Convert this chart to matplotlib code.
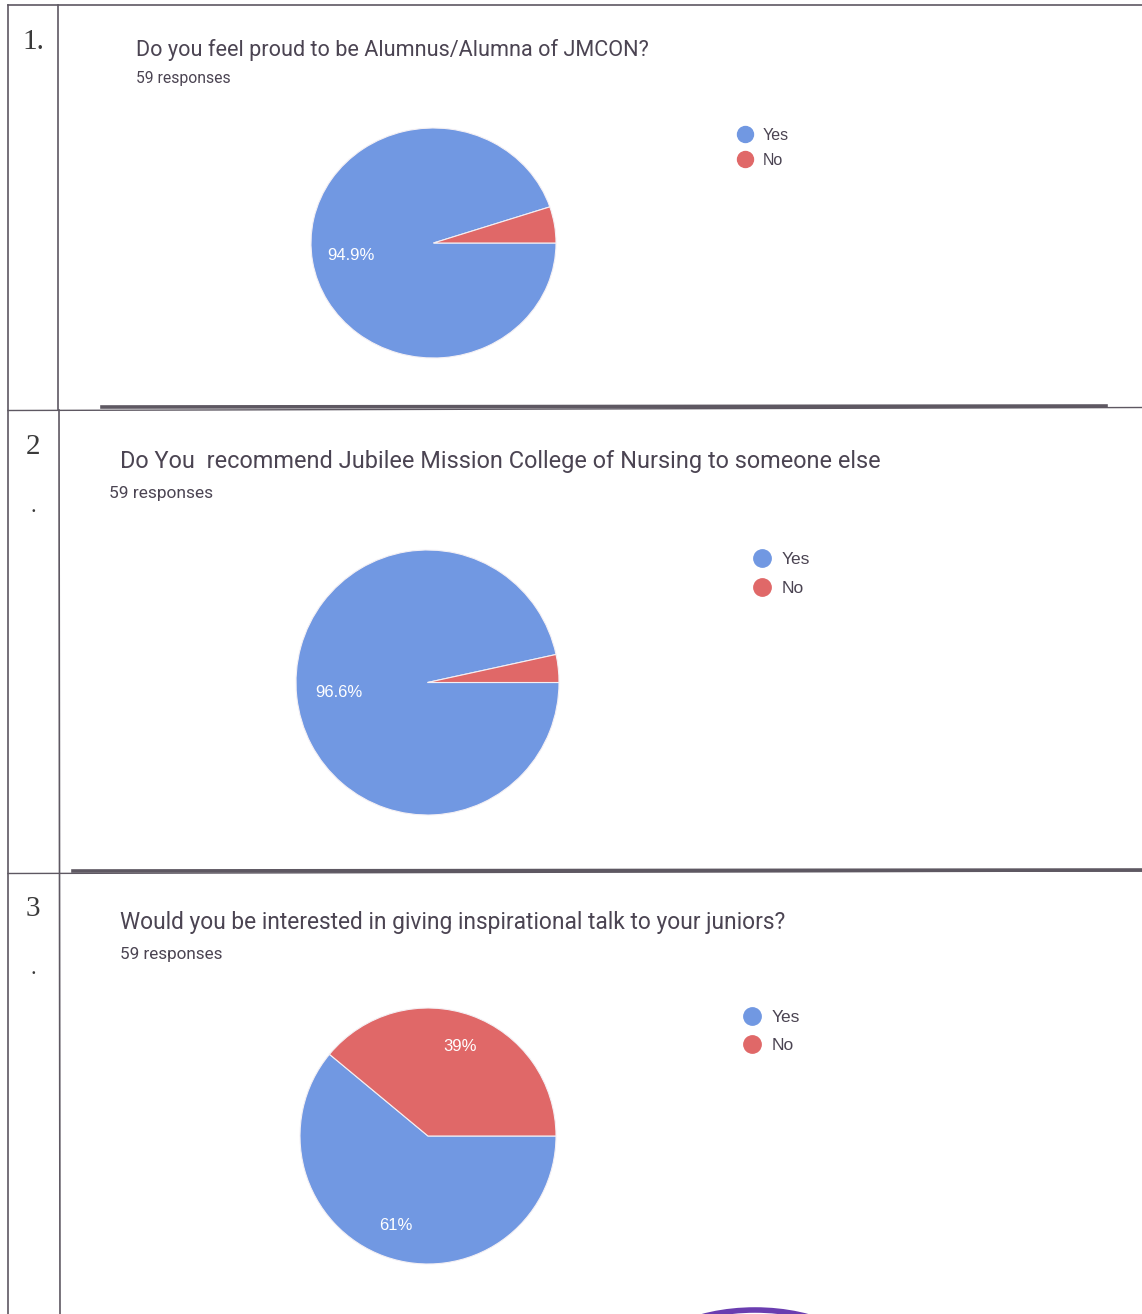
import matplotlib
matplotlib.use('Agg')
import matplotlib.pyplot as plt
from matplotlib.lines import Line2D
from matplotlib.patches import Ellipse

# ######################## Data ########################
questions = [
    'Do you feel proud to be Alumnus/Alumna of JMCON?',
    'Do You  recommend Jubilee Mission College of Nursing to someone else',
    'Would you be interested in giving inspirational talk to your juniors?',
]
responses = [59, 59, 59]
answers = ['Yes', 'No']
yes_counts = [56, 57, 36]
no_counts = [3, 2, 23]
row_numbers = ['1.', '2', '3']

# ######################## Layout (pixels) ########################
W, H = 1142, 1314
blue = '#7198e2'
red = '#e06868'
ink = '#4b4452'
line_col = '#5e5862'

# pie bounding boxes: x0, x1, y0, y1
pie_boxes = [(311, 556, 128, 358), (296, 559, 550, 815), (300, 556, 1008, 1264)]
title_pos = [(136, 50, 15.6), (120, 462, 16.9), (120, 923, 16.4)]
resp_pos = [(136, 78, 11.3), (109, 494, 12.5), (120, 954, 12.3)]
legend_pos = [(729, 128, 11.5, 0.6), (745, 552, 12.5, 0.8), (735, 1010, 12.5, 0.75)]
pct_dist = [0.68, 0.68, 0.74]
num_pos = [(33, 42), (33, 447), (33, 909)]
dot_pos = [None, (33, 508), (33, 970)]

fig = plt.figure(figsize=(W / 100, H / 100), dpi=100)
fig.patch.set_facecolor('white')


def fx(x):
    return x / W


def fy(y):
    return 1 - y / H


def pct_fmt(p):
    if p < 10:
        return ''
    return ('%.1f' % p).rstrip('0').rstrip('.') + '%'


# ######################## Table lines ########################
bg = fig.add_axes([0, 0, 1, 1])
bg.set_xlim(0, W)
bg.set_ylim(H, 0)
bg.axis('off')
bg.plot([8, 1142], [5, 5], color=line_col, lw=1.2)
bg.plot([8, 8], [5, H], color=line_col, lw=1.2)
bg.plot([58, 58], [5, 410], color=line_col, lw=1.2)
bg.plot([59, 60], [410, H], color=line_col, lw=1.2)
bg.plot([8, 1142], [410.5, 407.5], color=line_col, lw=1.0)
bg.plot([102, 1106], [407, 406], color=line_col, lw=2.6)
bg.plot([8, 1142], [873.5, 871], color=line_col, lw=1.0)
bg.plot([73, 1142], [871, 870], color=line_col, lw=2.6)
# stamp fragment at the bottom
bg.add_patch(Ellipse((755, 1370), 230, 120, fill=False, ec='#6a3db0', lw=4))

for i in range(3):
    fig.text(fx(num_pos[i][0]), fy(num_pos[i][1]), row_numbers[i], family='Liberation Serif',
             fontsize=21, color='#3a3a3a', ha='center', va='center')
    if dot_pos[i]:
        fig.text(fx(dot_pos[i][0]), fy(dot_pos[i][1]), '.', family='Liberation Serif',
                 fontsize=16, color='#3a3a3a', ha='center', va='center')

    tx, ty, ts = title_pos[i]
    fig.text(fx(tx), fy(ty), questions[i], family='Roboto', fontsize=ts, color=ink,
             ha='left', va='center')
    rx, ry, rs = resp_pos[i]
    fig.text(fx(rx), fy(ry), '%d responses' % responses[i], family='Roboto', fontsize=rs,
             color=ink, ha='left', va='center')

    # ######################## Pie ########################
    x0, x1, y0, y1 = pie_boxes[i]
    ax = fig.add_axes([fx(x0), fy(y1), (x1 - x0) / W, (y1 - y0) / H])
    vals = [yes_counts[i], no_counts[i]]
    start = 360.0 * no_counts[i] / (yes_counts[i] + no_counts[i])
    wedges, texts, autotexts = ax.pie(vals, colors=[blue, red], startangle=start, counterclock=True,
                                      autopct=pct_fmt, pctdistance=pct_dist[i],
                                      wedgeprops=dict(edgecolor='#f4f0f4', linewidth=0.8))
    for t in autotexts:
        t.set_color('white')
        t.set_fontsize(12)
        t.set_family('Liberation Sans')
    ax.set_aspect('auto')
    ax.set_xlim(-1, 1)
    ax.set_ylim(-1, 1)

    # ######################## Legend ########################
    lx, ly, lsz, lsp = legend_pos[i]
    handles = [Line2D([], [], marker='o', ls='', markersize=lsz, color=c) for c in [blue, red]]
    fig.legend(handles, answers, loc='upper left', bbox_to_anchor=(fx(lx), fy(ly)),
               frameon=False, prop={'family': 'Liberation Sans', 'size': lsz}, labelcolor=ink,
               handletextpad=0.1, labelspacing=lsp, borderaxespad=0, borderpad=0)

fig.savefig('out.png', dpi=100, facecolor='white')
